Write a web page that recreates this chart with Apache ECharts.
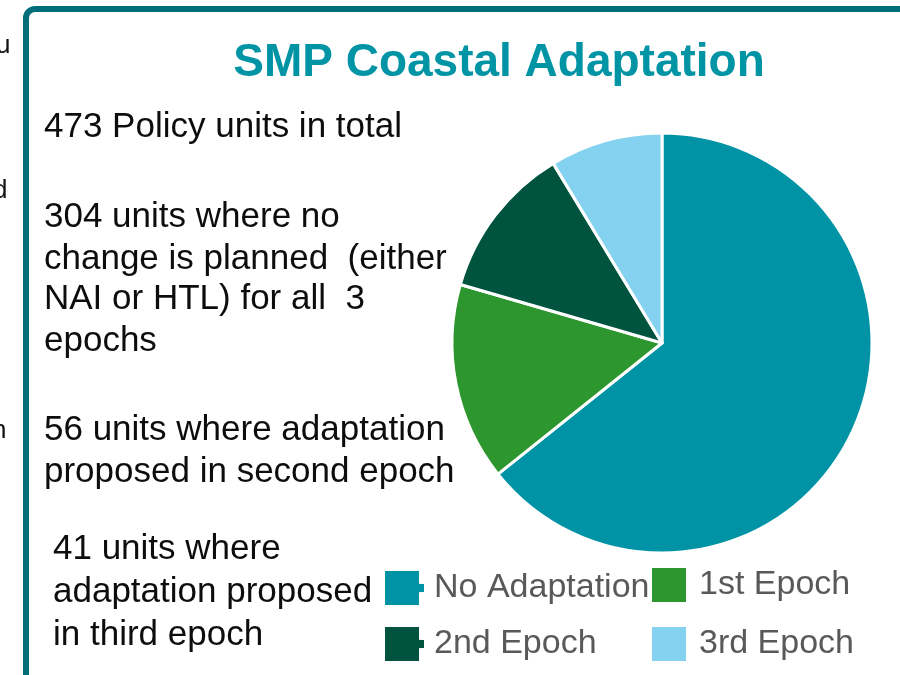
<!DOCTYPE html>
<html>
<head>
<meta charset="utf-8">
<title>SMP Coastal Adaptation</title>
<script src="https://cdn.jsdelivr.net/npm/echarts@6/dist/echarts.min.js"></script>
<style>
  html, body { margin: 0; padding: 0; background: #fff; }
  #chart { width: 900px; height: 675px; }
</style>
</head>
<body>
<div id="chart"></div>
<script>
const categories = ['No Adaptation', '1st Epoch', '2nd Epoch', '3rd Epoch'];
const unitCounts = [304, 72, 56, 41];

const titleText = 'SMP Coastal Adaptation';
// side notes, one entry per printed line
const noteLines = [
  '473 Policy units in total',
  '304 units where no',
  'change is planned  (either',
  'NAI or HTL) for all  3',
  'epochs',
  '56 units where adaptation',
  'proposed in second epoch',
  '41 units where',
  'adaptation proposed',
  'in third epoch'
];
const noteBaselines = [137, 227, 269, 309, 351, 440, 482, 559, 602, 645];
const noteLefts = [44, 44, 44, 44, 44, 44, 44, 53, 53, 53];

const FONT = '"Liberation Sans", Arial, Helvetica, sans-serif';
const colors = ['#0093A6', '#2E962E', '#00543F', '#84D2F0'];

const chart = echarts.init(document.getElementById('chart'), null, { renderer: 'canvas' });

const notchIcon = 'path://M0,0H36V13H41V23H36V36H0Z';

function legendItem(name, left, top, icon, width, padLeft) {
  return {
    data: [{ name: name, icon: icon }],
    left: left,
    top: top,
    padding: 0,
    itemWidth: width,
    itemHeight: 36,
    selectedMode: false,
    textStyle: { fontSize: 34, color: '#595959', fontFamily: FONT, padding: [0, 0, 0, padLeft] }
  };
}

const graphics = [
  {
    type: 'rect',
    shape: { x: 26, y: 9, width: 900, height: 720, r: 9 },
    style: { fill: 'none', stroke: '#006E78', lineWidth: 6 },
    z: 1
  },
  {
    type: 'text',
    x: 499,
    y: 63,
    style: {
      text: titleText,
      fontSize: 46,
      fontWeight: 'bold',
      fontFamily: FONT,
      fill: '#0094A5',
      align: 'center',
      verticalAlign: 'middle'
    }
  },
  // clipped letters of the neighbouring slide
  { type: 'text', x: -4, y: 46, style: { text: 'u', fontSize: 26, fontFamily: FONT, fill: '#111', verticalAlign: 'middle' } },
  { type: 'text', x: -7, y: 191, style: { text: 'd', fontSize: 26, fontFamily: FONT, fill: '#111', verticalAlign: 'middle' } },
  { type: 'text', x: -8, y: 431, style: { text: 'n', fontSize: 26, fontFamily: FONT, fill: '#111', verticalAlign: 'middle' } }
];

noteLines.forEach(function (line, i) {
  graphics.push({
    type: 'text',
    x: noteLefts[i],
    y: noteBaselines[i] - 10,
    style: {
      text: line,
      fontSize: 35,
      fontFamily: FONT,
      fill: '#0d0d0d',
      verticalAlign: 'middle'
    }
  });
});

chart.setOption({
  animation: false,
  color: colors,
  graphic: graphics,
  legend: [
    legendItem(categories[0], 383, 569, notchIcon, 41, 4),
    legendItem(categories[2], 383, 625, notchIcon, 41, 4),
    legendItem(categories[1], 650, 566, 'rect', 36, 7),
    legendItem(categories[3], 650, 625, 'rect', 36, 7)
  ],
  series: [{
    type: 'pie',
    center: [662, 343],
    radius: 210,
    startAngle: 90,
    clockwise: true,
    label: { show: false },
    labelLine: { show: false },
    emphasis: { disabled: true },
    itemStyle: { borderColor: '#fff', borderWidth: 3 },
    data: categories.map(function (name, i) {
      return { name: name, value: unitCounts[i] };
    })
  }]
});
</script>
</body>
</html>
